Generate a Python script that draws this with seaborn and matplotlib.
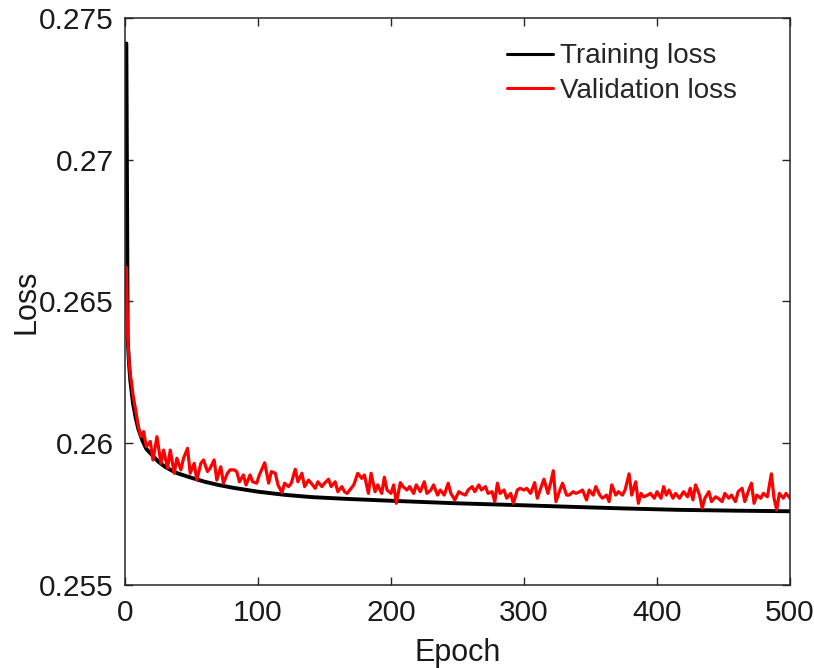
import seaborn as sns
import matplotlib.pyplot as plt

# training loss (smooth curve)
train_epoch = [1, 2, 3, 4, 5, 6, 8, 10, 13, 16, 20, 25, 30, 35, 40, 50, 60, 70, 81,
               100, 120, 140, 165, 200, 250, 300, 333, 375, 416, 460, 500]
train_loss = [0.2741, 0.2637, 0.2628, 0.2622, 0.2618, 0.2614, 0.2609, 0.2605, 0.2601,
              0.2598, 0.2596, 0.25935, 0.25917, 0.25904, 0.25893, 0.25878, 0.25864,
              0.25853, 0.25843, 0.25829, 0.25818, 0.25810, 0.25804, 0.25797, 0.25788,
              0.25781, 0.25776, 0.25770, 0.25765, 0.25762, 0.25760]

# validation loss (noisy curve)
val_epoch = [1, 2, 3, 4, 5, 6, 8, 10, 12, 14, 16, 19, 21, 24, 27, 29, 32, 34, 37, 39,
             42, 44, 47, 49, 52, 54, 57, 59, 62, 64, 67, 69, 72, 74, 77, 79,
             82, 84, 86, 89, 91, 94, 96, 99, 101, 105, 108, 110, 113, 115, 118, 120,
             123, 125, 128, 130, 133, 135, 138, 140, 143, 145, 148, 150, 153, 155,
             158, 160, 163, 165,
             167, 170, 172, 175, 178, 180, 183, 185, 188, 190, 193, 195, 197, 200,
             202, 204, 207, 209, 212, 214, 217, 219, 222, 225, 227, 230, 232, 235,
             237, 240, 243, 245, 248,
             251, 253, 256, 258, 261, 263, 266, 268, 271, 273, 276, 278, 280, 282,
             285, 287, 290, 292, 295, 297, 300, 302, 305, 308, 310, 313, 315, 318,
             320, 322, 324, 327, 329, 332,
             334, 337, 339, 342, 344, 347, 349, 352, 354, 357, 359, 362, 364, 366,
             369, 371, 374, 376, 379, 381, 384, 386, 388, 390, 393, 395, 398, 400,
             403, 405, 407, 409, 412, 414,
             417, 420, 423, 425, 427, 429, 432, 434, 436, 439, 441, 444, 446, 449,
             451, 454, 456, 459, 461, 464, 466, 469, 471, 473, 475, 478, 480, 483,
             486, 488, 490, 492, 495, 497, 500]
val_loss = [0.2662, 0.2638, 0.2629, 0.2624, 0.2621, 0.2617, 0.26117, 0.26058, 0.26023,
            0.26041, 0.25988, 0.26006, 0.25941, 0.26023, 0.25929, 0.25976, 0.25912,
            0.25976, 0.25894, 0.25947, 0.25906, 0.25947, 0.25982, 0.25894, 0.25929,
            0.25870, 0.25929, 0.25941, 0.25900, 0.25912, 0.25941, 0.25870, 0.25917,
            0.25859, 0.25894, 0.25906,
            0.25906, 0.25900, 0.25864, 0.25888, 0.25853, 0.25888, 0.25864, 0.25859,
            0.25888, 0.25931, 0.25859, 0.25900, 0.25894, 0.25853, 0.25826, 0.25859,
            0.25847, 0.25859, 0.25908, 0.25864, 0.25894, 0.25847, 0.25870, 0.25859,
            0.25841, 0.25864, 0.25847, 0.25859, 0.25873, 0.25847, 0.25864, 0.25829,
            0.25847, 0.25829,
            0.25823, 0.25841, 0.25853, 0.25894, 0.25876, 0.25888, 0.25823, 0.25894,
            0.25829, 0.25853, 0.25823, 0.25880, 0.25835, 0.25823, 0.25853, 0.25788,
            0.25861, 0.25847, 0.25835, 0.25847, 0.25823, 0.25853, 0.25829, 0.25864,
            0.25823, 0.25835, 0.25853, 0.25817, 0.25835, 0.25817, 0.25859, 0.25823,
            0.25800,
            0.25829, 0.25823, 0.25817, 0.25835, 0.25847, 0.25829, 0.25853, 0.25835,
            0.25847, 0.25823, 0.25829, 0.25794, 0.25859, 0.25823, 0.25835, 0.25806,
            0.25823, 0.25788, 0.25835, 0.25841, 0.25835, 0.25841, 0.25823, 0.25861,
            0.25806, 0.25847, 0.25873, 0.25823, 0.25859, 0.25903, 0.25794, 0.25835,
            0.25859, 0.25817,
            0.25817, 0.25829, 0.25823, 0.25829, 0.25835, 0.25800, 0.25835, 0.25817,
            0.25847, 0.25817, 0.25806, 0.25817, 0.25794, 0.25853, 0.25817, 0.25829,
            0.25817, 0.25835, 0.25892, 0.25817, 0.25864, 0.25788, 0.25823, 0.25811,
            0.25817, 0.25823, 0.25806, 0.25829, 0.25806, 0.25847, 0.25817, 0.25835,
            0.25806, 0.25823,
            0.25806, 0.25829, 0.25811, 0.25841, 0.25800, 0.25853, 0.25817, 0.25771,
            0.25806, 0.25829, 0.25794, 0.25811, 0.25806, 0.25794, 0.25823, 0.25806,
            0.25817, 0.25794, 0.25829, 0.25841, 0.25794, 0.25835, 0.25859, 0.25788,
            0.25817, 0.25806, 0.25823, 0.25811, 0.25892, 0.25806, 0.25765, 0.25823,
            0.25806, 0.25823, 0.25806]

x_ticks = [0, 100, 200, 300, 400, 500]
y_ticks = [0.255, 0.26, 0.265, 0.27, 0.275]
y_ticklabels = ['0.255', '0.26', '0.265', '0.27', '0.275']

sns.set_style("ticks")
plt.rcParams['font.family'] = ['Liberation Sans', 'DejaVu Sans']

fig = plt.figure(figsize=(8.14, 6.68), dpi=100)
ax = fig.add_axes([0.1536, 0.1243, 0.8169, 0.8488])

sns.lineplot(x=train_epoch, y=train_loss, ax=ax, color='black', linewidth=2.8,
             label='Training loss')
sns.lineplot(x=val_epoch, y=val_loss, ax=ax, color='red', linewidth=2.3,
             label='Validation loss')

ax.set_xlim(0, 500)
ax.set_ylim(0.255, 0.275)
ax.set_xticks(x_ticks)
ax.set_yticks(y_ticks)
ax.set_yticklabels(y_ticklabels)

ax.tick_params(direction='in', length=6, width=1, colors='#262626',
               labelcolor='#1a1a1a', labelsize=21.5, top=True, right=True, pad=8)
ax.tick_params(axis='x', pad=10)
for sp in ax.spines.values():
    sp.set_visible(True)
    sp.set_color('#262626')
    sp.set_linewidth(1.1)

ax.set_xlabel('Epoch', fontsize=22, color='#1a1a1a', labelpad=8)
ax.set_ylabel('Loss', fontsize=22, color='#1a1a1a', labelpad=-2)

leg = ax.legend(loc='upper left', bbox_to_anchor=(0.558, 0.975), frameon=False,
                fontsize=20, handlelength=1.65, handletextpad=0.25, labelspacing=0.3,
                borderaxespad=0)
for line in leg.get_lines():
    line.set_linewidth(2.2)

fig.savefig('out.png', dpi=100)
